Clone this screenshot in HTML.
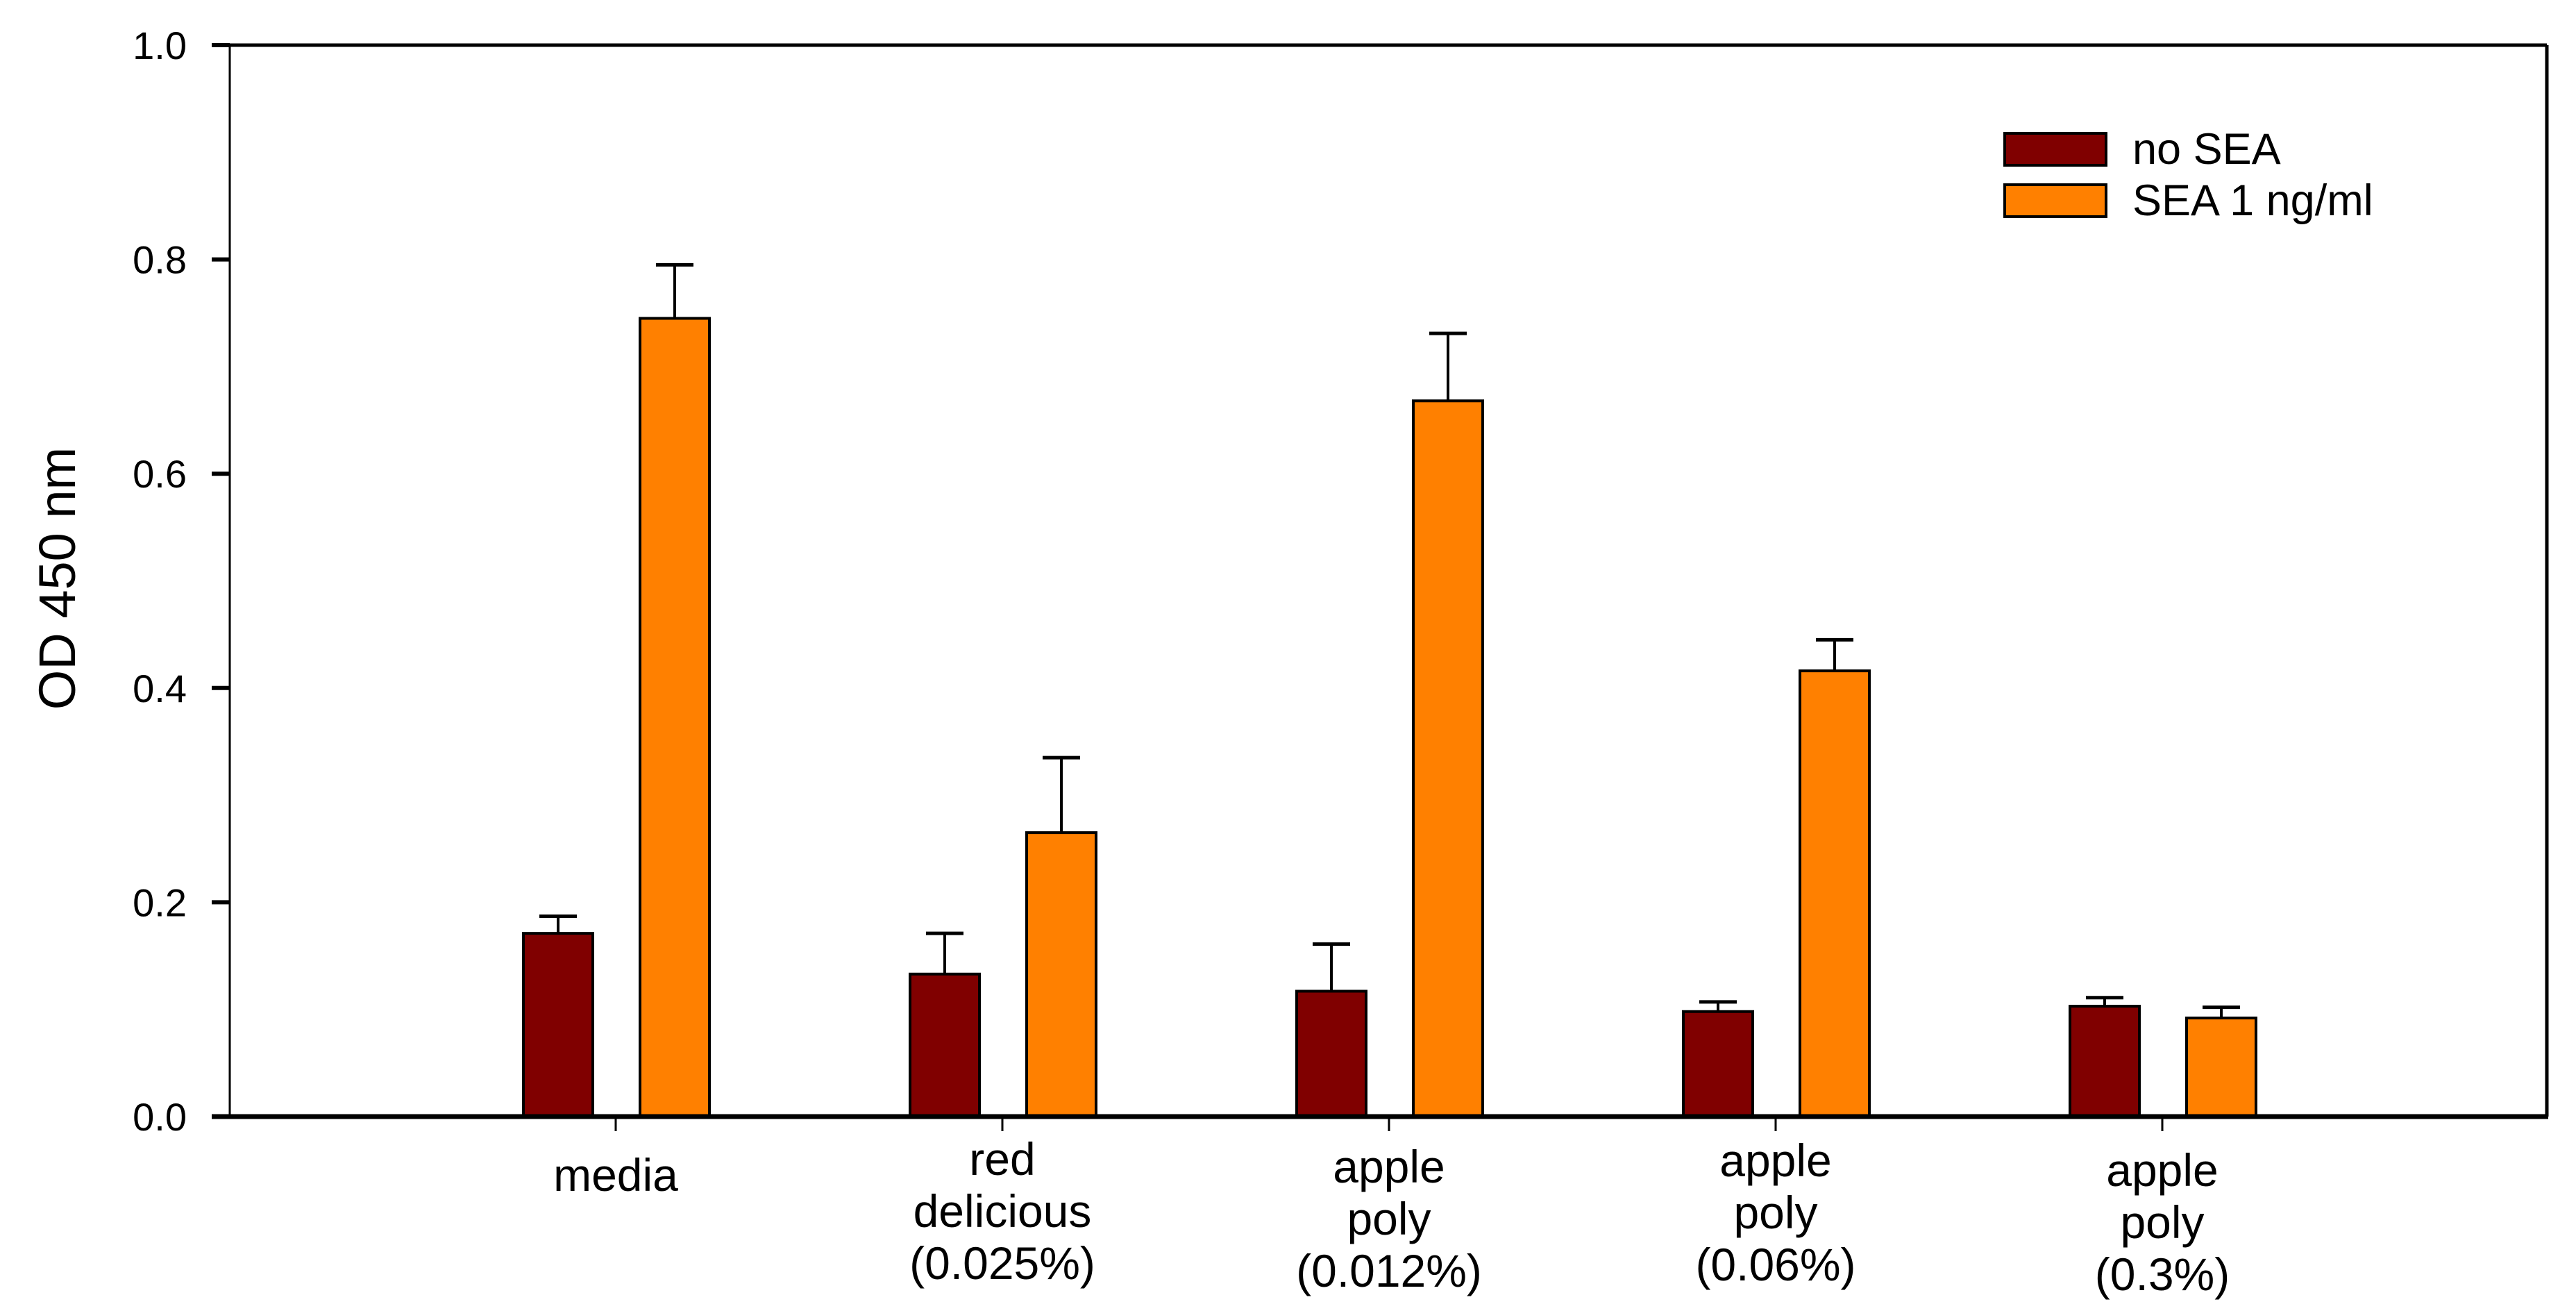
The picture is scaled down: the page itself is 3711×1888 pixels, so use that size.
<!DOCTYPE html>
<html><head><meta charset="utf-8"><style>html,body{margin:0;padding:0;background:#fff}svg{display:block}text{font-family:"Liberation Sans",Arial,sans-serif;fill:#000}</style></head>
<body>
<svg id="chart" width="3711" height="1888" viewBox="0 0 3711 1888" xmlns="http://www.w3.org/2000/svg"></svg>
<script>
const categories = [["media"],["red","delicious","(0.025%)"],["apple","poly","(0.012%)"],["apple","poly","(0.06%)"],["apple","poly","(0.3%)"]];
const noSea = [0.171, 0.133, 0.117, 0.098, 0.103];
const noSeaErr = [0.016, 0.038, 0.044, 0.009, 0.008];
const sea = [0.745, 0.265, 0.668, 0.416, 0.092];
const seaErr = [0.050, 0.070, 0.063, 0.029, 0.010];
const yTicks = [0, 0.2, 0.4, 0.6, 0.8, 1.0];
const yTickLabels = ["0.0","0.2","0.4","0.6","0.8","1.0"];
const seriesNames = ["no SEA","SEA 1 ng/ml"];

const NS="http://www.w3.org/2000/svg";
const svg=document.getElementById('chart');
const L=331,R=3669,T=65,B=1608;
const y=v=>B-(v/1.0)*(B-T);
const x=i=>887+i*557;
function el(t,a,p){const e=document.createElementNS(NS,t);for(const k in a)e.setAttribute(k,a[k]);(p||svg).appendChild(e);return e;}

let e;
e=el('line',{x1:L,y1:T,x2:R,y2:T,stroke:'#000','stroke-width':5});

e=el('line',{x1:R,y1:T,x2:R,y2:B,stroke:'#000','stroke-width':5});

e=el('line',{x1:L,y1:T,x2:L,y2:B,stroke:'#000','stroke-width':3});


yTicks.forEach((v,i)=>{
  const t=el('line',{x1:305,y1:y(v),x2:L,y2:y(v),stroke:'#000','stroke-width':6});
  
  const tx=el('text',{x:269,y:y(v)+20,'text-anchor':'end','font-size':56});
  tx.textContent=yTickLabels[i];
  
});
e=el('text',{x:0,y:0,'text-anchor':'middle','font-size':74,transform:'translate(108,833) rotate(-90)'});
e.textContent='OD 450 nm';


const labelTop=[1715,1692,1703,1694,1708];
categories.forEach((c,i)=>{
  const cx=x(i);
  const bw=100;
  [[noSea,noSeaErr,'#800000',cx-133,'bar-no-sea'],[sea,seaErr,'#ff8000',cx+35,'bar-sea']].forEach(s=>{
    const v=s[0][i],er=s[1][i],bx=s[3];
    const ec=bx+bw/2;
    const l=el('line',{x1:ec,y1:y(v),x2:ec,y2:y(v+er),stroke:'#000','stroke-width':4});
    
    const cap=el('line',{x1:ec-27,y1:y(v+er),x2:ec+27,y2:y(v+er),stroke:'#000','stroke-width':5});
    
    const r=el('rect',{x:bx,y:y(v),width:bw,height:B-y(v),fill:s[2],stroke:'#000','stroke-width':4});
    
  });
  const tk=el('line',{x1:cx,y1:B,x2:cx,y2:B+21,stroke:'#000','stroke-width':3});
  
  const tx=el('text',{x:cx,y:labelTop[i],'text-anchor':'middle','font-size':66});
  
  c.forEach((ln,j)=>{const ts=el('tspan',{x:cx,dy:j?75:0},tx);ts.textContent=ln;});
});
e=el('line',{x1:305,y1:B,x2:R+2,y2:B,stroke:'#000','stroke-width':7});


const lg=el('g',{});

['#800000','#ff8000'].forEach((c,i)=>{
  const yy=192+i*74;
  const r=el('rect',{x:2888,y:yy,width:146,height:46,fill:c,stroke:'#000','stroke-width':4},lg);
  
  const t=el('text',{x:3072,y:yy+44,'font-size':63},lg);
  t.textContent=seriesNames[i];
  
});
</script>
</body></html>
